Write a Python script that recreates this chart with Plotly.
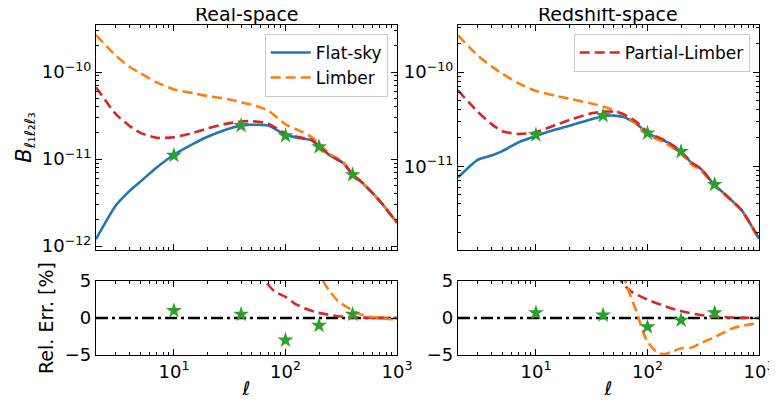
import math
import plotly.graph_objects as go
from plotly.subplots import make_subplots

# ---------------- data ----------------
ell_rs = [2, 3, 4, 5, 7, 10, 15, 20, 30, 40, 50, 70, 100, 130, 170, 200, 250, 330, 400, 500, 700, 1000]
flat_rs = [1.2e-12, 2.9e-12, 4.3e-12, 5.5e-12, 8.0e-12, 1.12e-11, 1.5e-11, 1.8e-11, 2.2e-11, 2.42e-11,
           2.48e-11, 2.42e-11, 1.9e-11, 1.75e-11, 1.65e-11, 1.4e-11, 1.1e-11, 9.0e-12, 6.6e-12, 5.2e-12,
           3.3e-12, 1.85e-12]
limber_rs = [2.66e-10, 1.55e-10, 1.15e-10, 9.7e-11, 7.6e-11, 6.3e-11, 5.7e-11, 5.3e-11, 4.9e-11, 4.5e-11,
             4.2e-11, 3.6e-11, 2.5e-11, 2.15e-11, 1.8e-11, 1.5e-11, 1.15e-11, 9.2e-12, 6.67e-12, 5.22e-12,
             3.3e-12, 1.85e-12]
partial_rs = [6.7e-11, 3.3e-11, 2.4e-11, 2.0e-11, 1.75e-11, 1.78e-11, 2.0e-11, 2.25e-11, 2.55e-11, 2.7e-11,
              2.72e-11, 2.55e-11, 1.96e-11, 1.79e-11, 1.67e-11, 1.41e-11, 1.1e-11, 9.0e-12, 6.6e-12, 5.2e-12,
              3.3e-12, 1.85e-12]

ell_zs = [2, 3, 4, 5, 7, 10, 15, 20, 30, 40, 50, 60, 80, 100, 150, 200, 250, 300, 400, 500, 700, 1000]
flat_zs = [7.6e-12, 1.17e-11, 1.3e-11, 1.45e-11, 1.8e-11, 2.1e-11, 2.45e-11, 2.7e-11, 3.1e-11, 3.4e-11,
           3.45e-11, 3.35e-11, 2.8e-11, 2.25e-11, 1.8e-11, 1.42e-11, 1.08e-11, 9.4e-12, 6.3e-12, 5.0e-12,
           3.4e-12, 1.7e-12]
limber_zs = [2.46e-10, 1.5e-10, 1.15e-10, 9.6e-11, 7.6e-11, 6.3e-11, 5.6e-11, 5.2e-11, 4.7e-11, 4.3e-11,
             3.95e-11, 3.6e-11, 2.8e-11, 2.18e-11, 1.72e-11, 1.36e-11, 1.04e-11, 9.1e-12, 6.15e-12, 4.9e-12,
             3.35e-12, 1.69e-12]
partial_zs = [6.4e-11, 3.8e-11, 2.8e-11, 2.35e-11, 2.2e-11, 2.3e-11, 2.75e-11, 3.1e-11, 3.6e-11, 3.8e-11,
              3.8e-11, 3.6e-11, 2.95e-11, 2.3e-11, 1.83e-11, 1.43e-11, 1.09e-11, 9.45e-12, 6.3e-12, 5.0e-12,
              3.4e-12, 1.7e-12]

ell_stars = [10, 40, 100, 200, 400]
stars_rs = [1.1e-11, 2.42e-11, 1.85e-11, 1.38e-11, 6.6e-12]
stars_zs = [2.15e-11, 3.45e-11, 2.25e-11, 1.43e-11, 6.4e-12]
err_stars_rs = [1.0, 0.5, -3.0, -1.0, 0.5]
err_stars_zs = [0.7, 0.4, -1.2, -0.3, 0.7]

ell_err_partial_rs = [60, 66, 70, 80, 100, 120, 150, 200, 300, 500, 700, 1000]
err_partial_rs = [6.5, 5.0, 4.5, 3.6, 2.85, 2.0, 1.3, 0.7, 0.25, 0.05, 0.02, 0.0]
ell_err_limber_rs = [200, 218, 250, 300, 400, 500, 700, 1000]
err_limber_rs = [7.0, 5.0, 3.6, 2.2, 1.05, 0.35, 0.0, -0.2]

ell_err_partial_zs = [55, 58, 70, 100, 150, 200, 300, 500, 1000]
err_partial_zs = [6.0, 5.0, 3.7, 2.5, 1.5, 0.95, 0.4, 0.1, 0.0]
ell_err_limber_zs = [60, 65, 70, 80, 90, 100, 120, 140, 170, 200, 250, 300, 400, 600, 1000]
err_limber_zs = [6.0, 4.5, 3.1, 0.8, -1.6, -3.2, -4.55, -4.9, -4.5, -4.1, -4.0, -3.4, -2.6, -1.3, -0.7]

ell_zero = [2, 1000]
zero_line = [0, 0]

titles = ["Real-space", "Redshift-space"]
x_ticks = [10, 100, 1000]
x_ticktext = ["10<sup>1</sup>", "10<sup>2</sup>", "10<sup>3</sup>"]
y_ticks_rs = [1e-12, 1e-11, 1e-10]
y_ticktext_rs = ["10<sup>−12</sup>", "10<sup>−11</sup>", "10<sup>−10</sup>"]
y_ticks_zs = [1e-11, 1e-10]
y_ticktext_zs = ["10<sup>−11</sup>", "10<sup>−10</sup>"]
err_ticks = [-5, 0, 5]
err_ticktext = ["−5", "0", "5"]
# ---------------------------------------

BLUE, ORANGE, RED, GREEN = "#1f77b4", "#ff7f0e", "#d62728", "#2ca02c"
FONT = "DejaVu Sans"

fig = make_subplots(rows=2, cols=2)

dash = "10px,5px"
lw = 2.6

def add_top(col, ell, flat, limber, partial, stars, legend):
    fig.add_trace(go.Scatter(x=ell, y=flat, mode="lines", line=dict(color=BLUE, width=lw, shape="spline", smoothing=0.6),
                             name="Flat-sky", showlegend=(col == 1), legend=legend), row=1, col=col)
    fig.add_trace(go.Scatter(x=ell, y=limber, mode="lines",
                             line=dict(color=ORANGE, width=lw, dash=dash, shape="spline", smoothing=0.6),
                             name="Limber", showlegend=(col == 1), legend=legend), row=1, col=col)
    fig.add_trace(go.Scatter(x=ell, y=partial, mode="lines",
                             line=dict(color=RED, width=lw, dash=dash, shape="spline", smoothing=0.6),
                             name="Partial-Limber", showlegend=(col == 2), legend=legend), row=1, col=col)
    fig.add_trace(go.Scatter(x=ell_stars, y=stars, mode="markers",
                             marker=dict(symbol="star", size=12, color=GREEN), showlegend=False),
                  row=1, col=col)

add_top(1, ell_rs, flat_rs, limber_rs, partial_rs, stars_rs, "legend")
add_top(2, ell_zs, flat_zs, limber_zs, partial_zs, stars_zs, "legend2")

def add_bottom(col, ep, vp, el, vl, es):
    fig.add_trace(go.Scatter(x=ell_zero, y=zero_line, mode="lines",
                             line=dict(color="black", width=2.4, dash="12px,4px,3px,4px"), showlegend=False),
                  row=2, col=col)
    fig.add_trace(go.Scatter(x=ep, y=vp, mode="lines",
                             line=dict(color=RED, width=lw, dash=dash, shape="spline", smoothing=0.8), showlegend=False),
                  row=2, col=col)
    fig.add_trace(go.Scatter(x=el, y=vl, mode="lines",
                             line=dict(color=ORANGE, width=lw, dash=dash, shape="spline", smoothing=0.8), showlegend=False),
                  row=2, col=col)
    fig.add_trace(go.Scatter(x=ell_stars, y=es, mode="markers",
                             marker=dict(symbol="star", size=12, color=GREEN), showlegend=False),
                  row=2, col=col)

add_bottom(1, ell_err_partial_rs, err_partial_rs, ell_err_limber_rs, err_limber_rs, err_stars_rs)
add_bottom(2, ell_err_partial_zs, err_partial_zs, ell_err_limber_zs, err_limber_zs, err_stars_zs)

def log_minor(lo, hi):
    vals = []
    for e in range(lo, hi + 1):
        for m in range(2, 10):
            vals.append(m * 10.0 ** e)
    return vals

axis_common = dict(showline=True, linecolor="black", linewidth=1.2, mirror="allticks",
                   ticks="inside", ticklen=6, tickwidth=1.2, tickcolor="black", automargin=False,
                   showgrid=False, zeroline=False, tickmode="array", ticklabeloverflow="allow",
                   tickfont=dict(family=FONT, size=18, color="black"))

def minor_of(vals):
    return dict(tickmode="array", tickvals=vals, ticks="inside", ticklen=3, tickwidth=1,
                tickcolor="black", showgrid=False)

x_minor = minor_of(log_minor(0, 2))
y_minor = minor_of(log_minor(-13, -10))

xr = [math.log10(2), 3]
xdom = [[0, 0.454], [0.546, 1.0]]
for col in (1, 2):
    fig.update_xaxes(type="log", range=xr, domain=xdom[col - 1], showticklabels=False,
                     tickvals=x_ticks, ticktext=x_ticktext,
                     minor=x_minor, **axis_common, row=1, col=col)
    fig.update_xaxes(type="log", range=xr, domain=xdom[col - 1],
                     tickvals=x_ticks, ticktext=x_ticktext, minor=x_minor, **axis_common, row=2, col=col,
                     title=dict(text="<i>ℓ</i>", font=dict(family=FONT, size=19, color="black"), standoff=0))
    fig.update_yaxes(domain=[0, 0.224], range=[-5, 5], tickvals=err_ticks, ticktext=err_ticktext,
                     **axis_common, row=2, col=col)

fig.update_yaxes(type="log", domain=[0.318, 1.0], range=[-12.046, -9.46],
                 tickvals=y_ticks_rs, ticktext=y_ticktext_rs, minor=y_minor, **axis_common, row=1, col=1,
                 title=dict(text="<i>B</i><sub>ℓ₁ℓ₂ℓ₃</sub>", font=dict(family=FONT, size=21, color="black"),
                            standoff=4))
fig.update_yaxes(type="log", domain=[0.318, 1.0], range=[-11.89, -9.5],
                 tickvals=y_ticks_zs, ticktext=y_ticktext_zs, minor=y_minor, **axis_common, row=1, col=2)
fig.update_yaxes(title=dict(text="Rel. Err. [%]", font=dict(family=FONT, size=19, color="black"), standoff=6),
                 row=2, col=1)

# subplot titles
for i, t in enumerate(titles):
    xc = (xdom[i][0] + xdom[i][1]) / 2
    fig.add_annotation(text=t, x=xc, y=1.0, xref="paper", yref="paper", xanchor="center", yanchor="bottom",
                       showarrow=False, yshift=-2, font=dict(family=FONT, size=19, color="black"))

legend_style = dict(bgcolor="rgba(255,255,255,0.8)", bordercolor="#cccccc", borderwidth=1,
                    font=dict(family=FONT, size=17, color="black"), itemwidth=40, tracegroupgap=2)
# page body has an 8px margin, so the figure is drawn 8px smaller and offset
fig.update_layout(
    width=769, height=395,
    margin=dict(l=88, r=18, t=17, b=48, autoexpand=False),
    paper_bgcolor="white", plot_bgcolor="white",
    font=dict(family=FONT, color="black"),
    legend=dict(x=0.44, y=0.973, xanchor="right", yanchor="top", **legend_style),
    legend2=dict(x=0.986, y=0.973, xanchor="right", yanchor="top", **legend_style),
)

fig.write_html("out.html")
